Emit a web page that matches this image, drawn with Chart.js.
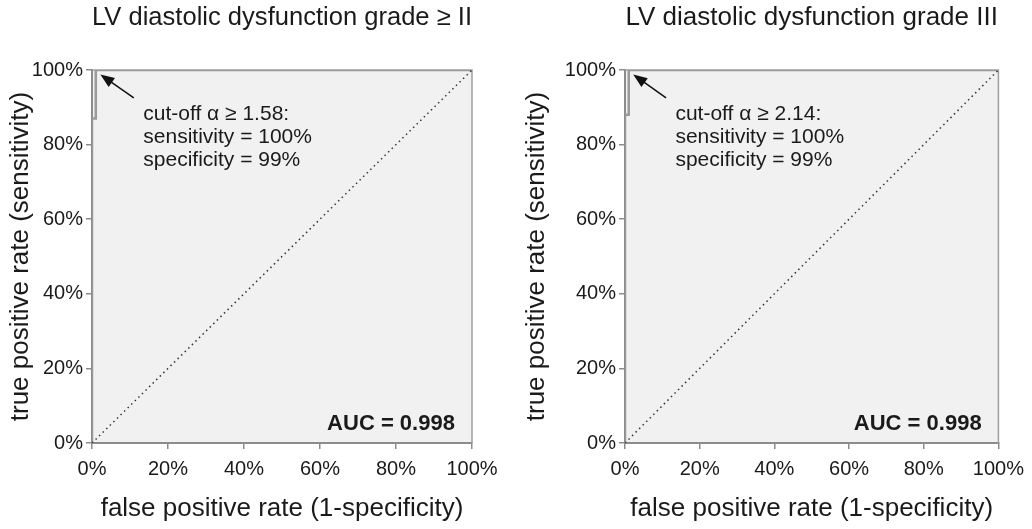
<!DOCTYPE html>
<html>
<head>
<meta charset="utf-8">
<script src="https://cdn.jsdelivr.net/npm/chart.js@4"></script>
<style>
  html, body { margin: 0; padding: 0; background: #fff; }
  #wrap { position: relative; width: 1032px; height: 529px; }
  .panel { position: absolute; top: 0; width: 516px; height: 529px; }
  #panelLeft { left: 0; }
  #panelRight { left: 516px; }
</style>
</head>
<body>
<div id="wrap">
  <div class="panel" id="panelLeft"><canvas id="chartLeft" width="516" height="529"></canvas></div>
  <div class="panel" id="panelRight"><canvas id="chartRight" width="516" height="529"></canvas></div>
</div>
<script>
/* DATA */
const rateTicks = [0, 0.2, 0.4, 0.6, 0.8, 1];

// ROC curves (false positive rate, true positive rate)
const rocFprLeft = [0, 0, 0.01, 0.01, 1];
const rocTprLeft = [0, 0.87, 0.87, 1, 1];
const rocFprRight = [0, 0, 0.01, 0.01, 1];
const rocTprRight = [0, 0.88, 0.88, 1, 1];

// reference diagonal
const chanceLine = [0, 1];

const panelTitles = [
  "LV diastolic dysfunction grade \u2265 II",
  "LV diastolic dysfunction grade III",
];
const cutoffNotes = [
  ["cut-off \u03b1 \u2265 1.58:", "sensitivity = 100%", "specificity = 99%"],
  ["cut-off \u03b1 \u2265 2.14:", "sensitivity = 100%", "specificity = 99%"],
];
const aucValues = [0.998, 0.998];

const FONT = '"Liberation Sans", Arial, sans-serif';
const TEXT = "#1a1a1a";
const AXIS = "#8c8c8c";

/* PLUGINS */
// light grey plot area + thin frame on top and right
const plotFrame = {
  id: "plotFrame",
  beforeDraw(chart) {
    const { ctx, chartArea: a } = chart;
    ctx.save();
    ctx.fillStyle = "#f1f1f1";
    ctx.fillRect(a.left, a.top, a.right - a.left, a.bottom - a.top);
    ctx.restore();
  },
  beforeDatasetsDraw(chart) {
    const { ctx, chartArea: a } = chart;
    ctx.save();
    ctx.strokeStyle = "#a0a0a0";
    ctx.lineWidth = 1.5;
    ctx.beginPath();
    ctx.moveTo(a.left, a.top);
    ctx.lineTo(a.right, a.top);
    ctx.lineTo(a.right, a.bottom);
    ctx.stroke();
    ctx.restore();
  },
};

// cut-off arrow, note text and AUC
const rocNotes = {
  id: "rocNotes",
  afterDraw(chart, args, opts) {
    const { ctx } = chart;
    const xs = chart.scales.x;
    const ys = chart.scales.y;

    const tipX = xs.getPixelForValue(0.022);
    const tipY = ys.getPixelForValue(0.988);
    const tailX = xs.getPixelForValue(0.11);
    const tailY = ys.getPixelForValue(0.925);
    const ang = Math.atan2(tipY - tailY, tipX - tailX);

    ctx.save();
    ctx.strokeStyle = "#111";
    ctx.fillStyle = "#111";
    ctx.lineWidth = 1.5;
    ctx.beginPath();
    ctx.moveTo(tailX, tailY);
    ctx.lineTo(tipX - 8 * Math.cos(ang), tipY - 8 * Math.sin(ang));
    ctx.stroke();
    ctx.beginPath();
    ctx.moveTo(tipX, tipY);
    ctx.lineTo(tipX - 14 * Math.cos(ang) + 5.5 * Math.sin(ang), tipY - 14 * Math.sin(ang) - 5.5 * Math.cos(ang));
    ctx.lineTo(tipX - 14 * Math.cos(ang) - 5.5 * Math.sin(ang), tipY - 14 * Math.sin(ang) + 5.5 * Math.cos(ang));
    ctx.closePath();
    ctx.fill();

    ctx.fillStyle = TEXT;
    ctx.font = `21px ${FONT}`;
    ctx.textAlign = "left";
    ctx.textBaseline = "alphabetic";
    const noteX = xs.getPixelForValue(0.135);
    const noteY = ys.getPixelForValue(0.866);
    opts.lines.forEach((line, i) => {
      ctx.fillText(line, noteX, noteY + i * 23);
    });

    ctx.font = `bold 22px ${FONT}`;
    ctx.textAlign = "right";
    ctx.fillText(`AUC = ${opts.auc.toFixed(3)}`, xs.getPixelForValue(0.955), ys.getPixelForValue(0.035));
    ctx.restore();
  },
};

function pct(v) {
  return Math.round(v * 100) + "%";
}

function makePanel(canvasId, idx, fpr, tpr, yAxisWidth, rightPad) {
  const rocPoints = fpr.map((x, i) => ({ x: x, y: tpr[i] }));
  const diagPoints = chanceLine.map((v) => ({ x: v, y: v }));

  return new Chart(document.getElementById(canvasId), {
    type: "scatter",
    data: {
      datasets: [
        {
          data: diagPoints,
          showLine: true,
          borderColor: "#333",
          borderWidth: 1.5,
          borderDash: [1.5, 3.5],
          pointRadius: 0,
        },
        {
          data: rocPoints,
          showLine: true,
          borderColor: "#9a9a9a",
          borderWidth: 2.5,
          pointRadius: 0,
        },
      ],
    },
    options: {
      responsive: false,
      animation: false,
      layout: { padding: { left: 0, right: rightPad, top: 0, bottom: 0 } },
      plugins: {
        legend: { display: false },
        tooltip: { enabled: false },
        title: {
          display: true,
          text: panelTitles[idx],
          fullSize: false,
          color: TEXT,
          font: { family: FONT, size: 26, weight: "normal" },
          padding: { top: 2, bottom: 36.8 },
        },
        rocNotes: { lines: cutoffNotes[idx], auc: aucValues[idx] },
      },
      scales: {
        x: {
          type: "linear",
          min: 0,
          max: 1,
          afterBuildTicks: (s) => {
            s.ticks = rateTicks.map((v) => ({ value: v }));
          },
          afterFit: (s) => {
            s.height = 86;
          },
          border: { color: AXIS, width: 2 },
          grid: { drawOnChartArea: false, tickLength: 6, color: AXIS, lineWidth: 1.5 },
          ticks: {
            callback: pct,
            color: TEXT,
            padding: 8,
            maxRotation: 0,
            font: { family: FONT, size: 20 },
          },
          title: {
            display: true,
            text: "false positive rate (1-specificity)",
            color: TEXT,
            font: { family: FONT, size: 26 },
            padding: { top: 0, bottom: 5 },
          },
        },
        y: {
          type: "linear",
          min: 0,
          max: 1,
          afterBuildTicks: (s) => {
            s.ticks = rateTicks.map((v) => ({ value: v }));
          },
          afterFit: (s) => {
            s.width = yAxisWidth;
          },
          border: { color: AXIS, width: 2 },
          grid: { drawOnChartArea: false, tickLength: 6, color: AXIS, lineWidth: 1.5 },
          ticks: {
            callback: pct,
            color: TEXT,
            padding: 3,
            font: { family: FONT, size: 20 },
          },
          title: {
            display: true,
            text: "true positive rate (sensitivity)",
            color: TEXT,
            font: { family: FONT, size: 26 },
            padding: { top: 5, bottom: 0 },
          },
        },
      },
    },
    plugins: [plotFrame, rocNotes],
  });
}

makePanel("chartLeft", 0, rocFprLeft, rocTprLeft, 92, 44);
makePanel("chartRight", 1, rocFprRight, rocTprRight, 109, 31);
</script>
</body>
</html>
